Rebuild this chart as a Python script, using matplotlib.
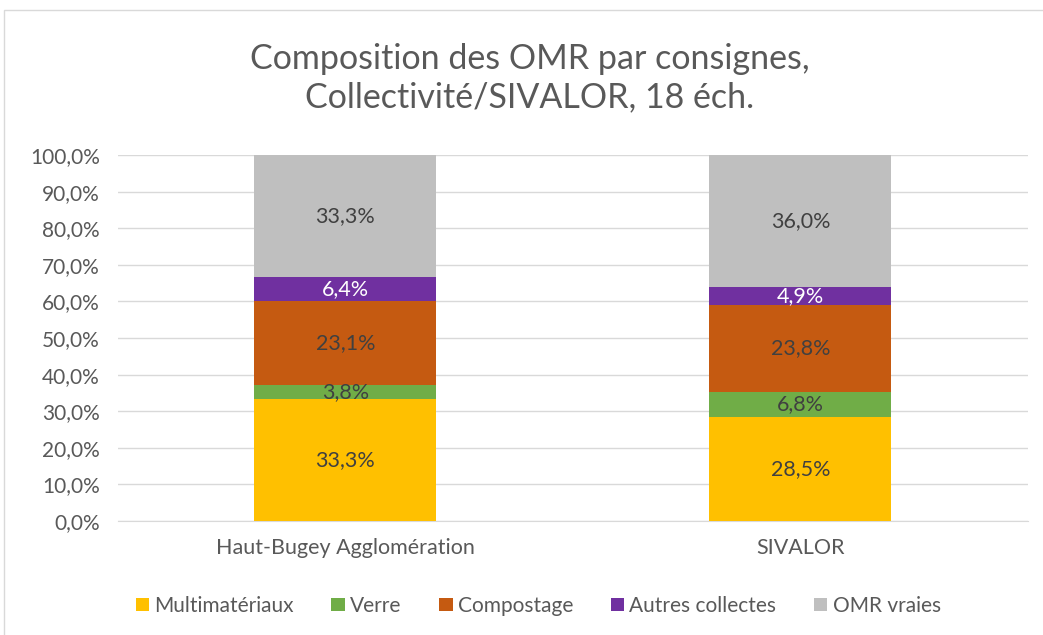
import numpy as np
import matplotlib.pyplot as plt
from matplotlib.patches import Rectangle

categories = ['Haut-Bugey Agglomération', 'SIVALOR']
series = ['Multimatériaux', 'Verre', 'Compostage', 'Autres collectes', 'OMR vraies']
values = {
    'Multimatériaux': [33.3, 28.5],
    'Verre': [3.8, 6.8],
    'Compostage': [23.1, 23.8],
    'Autres collectes': [6.4, 4.9],
    'OMR vraies': [33.3, 36.0],
}
colors = ['#FFC000', '#70AD47', '#C55A11', '#7030A0', '#BFBFBF']
label_colors = ['#404040', '#404040', '#404040', '#FFFFFF', '#404040']
yticks = np.arange(0, 101, 10)

plt.rcParams['font.family'] = ['Lato', 'DejaVu Sans']
text_color = '#595959'

fig = plt.figure(figsize=(10.43, 6.35), dpi=100)
ax = fig.add_axes([0.1131, 0.1795, 0.8725, 0.5764])

x = np.arange(len(categories))
bottom = np.zeros(len(categories))
for name, col, lc in zip(series, colors, label_colors):
    vals = np.array(values[name])
    ax.bar(x, vals, 0.4, bottom=bottom, color=col, label=name, zorder=3)
    for xi, b, v in zip(x, bottom, vals):
        ax.text(xi, b + v / 2, f'{v:.1f}%'.replace('.', ','), ha='center', va='center',
                fontsize=15.5, color=lc, zorder=4)
    bottom += vals

ax.set_xlim(-0.5, 1.5)
ax.set_ylim(0, 100)
ax.set_yticks(yticks)
ax.set_yticklabels([f'{t:.1f}%'.replace('.', ',') for t in yticks])
ax.set_xticks(x)
ax.set_xticklabels(categories)
ax.tick_params(axis='y', length=0, labelsize=15, colors=text_color, pad=13)
ax.tick_params(axis='x', length=0, labelsize=15.5, colors=text_color, pad=12)
ax.grid(axis='y', color='#D9D9D9', linewidth=1, zorder=0)
for s in ['top', 'right', 'left']:
    ax.spines[s].set_visible(False)
ax.spines['bottom'].set_color('#D9D9D9')

fig.text(0.508, 0.877, 'Composition des OMR par consignes,\nCollectivité/SIVALOR, 18 éch.',
         ha='center', va='center', fontsize=24.5, color=text_color, linespacing=1.25)

leg = fig.legend(loc='center', bbox_to_anchor=(0.516, 0.046), ncol=5, frameon=False,
                 fontsize=15, handlelength=0.65, handleheight=0.65, handletextpad=0.25,
                 columnspacing=1.8)
for t in leg.get_texts():
    t.set_color(text_color)

fig.patches.append(Rectangle((0.004, -0.01), 1.0, 0.994, transform=fig.transFigure,
                             fill=False, edgecolor='#D9D9D9', linewidth=1))

fig.savefig('out.png', dpi=100)
